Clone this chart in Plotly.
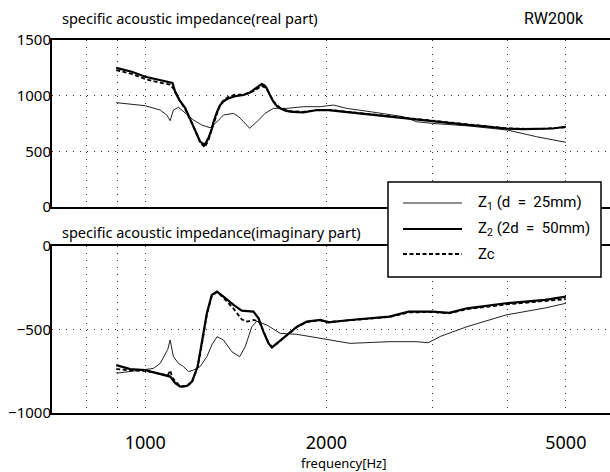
import plotly.graph_objects as go
import math

# ---------------- data ----------------
z1_re_f = [895, 950, 1000, 1059, 1086, 1100, 1114, 1136, 1158, 1203, 1242, 1282, 1316, 1349, 1402, 1429,
           1457, 1491, 1533, 1582, 1633, 1719, 1832, 1954, 2055, 2162, 2366, 2687, 2824, 3000, 3463, 4000,
           4474, 5000]
z1_re_v = [937, 922, 910, 871, 826, 775, 871, 895, 856, 781, 736, 712, 766, 826, 841, 811,
           766, 707, 766, 841, 886, 886, 901, 901, 916, 886, 856, 811, 766, 751, 727, 691,
           631, 581]

z2_re_f = [895, 950, 1000, 1050, 1100, 1110, 1122, 1140, 1165, 1185, 1203, 1220, 1234, 1255, 1274, 1290,
           1299, 1315, 1332, 1350, 1375, 1410, 1457, 1490, 1513, 1540, 1562, 1580, 1592, 1610, 1633, 1655,
           1676, 1710, 1742, 1790, 1832, 1880, 1929, 2017, 2100, 2216, 2350, 2521, 2700, 2864, 3000, 3200,
           3463, 3700, 4000, 4250, 4474, 4750, 5000]
z2_re_v = [1250, 1215, 1170, 1145, 1120, 1115, 1030, 960, 890, 800, 721, 640, 587, 557, 620, 700,
           766, 850, 916, 950, 976, 995, 1006, 1025, 1051, 1080, 1105, 1090, 1066, 1010, 946, 905,
           886, 865, 856, 852, 850, 860, 871, 870, 860, 847, 830, 811, 795, 781, 766, 755,
           736, 722, 703, 700, 700, 705, 721]

zc_re_f = [895, 950, 1000, 1050, 1100, 1122, 1140, 1165, 1203, 1234, 1255, 1274, 1290, 1315, 1332, 1350,
           1375, 1410, 1457, 1513, 1562, 1592, 1633, 1676, 1742, 1832, 1929, 2017, 2216, 2521, 2864, 3000,
           3463, 4000, 4474, 5000]
zc_re_v = [1230, 1195, 1150, 1120, 1100, 1040, 960, 880, 720, 580, 535, 600, 700, 830, 920, 960,
           990, 1010, 1010, 1040, 1090, 1060, 950, 890, 860, 855, 870, 872, 850, 818, 790, 775,
           742, 706, 700, 715]

z1_im_f = [895, 944, 1000, 1032, 1059, 1079, 1090, 1100, 1114, 1136, 1158, 1180, 1203, 1234, 1266, 1290,
           1316, 1349, 1393, 1435, 1466, 1504, 1533, 1592, 1676, 1787, 1879, 2017, 2190, 2544, 2818, 2953,
           3100, 3426, 3976, 4619, 5000]
z1_im_v = [-762, -752, -743, -733, -703, -643, -620, -563, -663, -703, -723, -752, -743, -722, -663, -593,
           -543, -563, -633, -663, -603, -483, -450, -473, -523, -529, -543, -559, -583, -573, -573, -579,
           -540, -483, -413, -371, -343]

z2_im_f = [895, 944, 1000, 1059, 1100, 1122, 1143, 1173, 1196, 1222, 1242, 1266, 1290, 1316, 1349, 1402,
           1447, 1513, 1543, 1572, 1603, 1624, 1655, 1719, 1787, 1855, 1954, 2017, 2190, 2544, 2740, 3000,
           3200, 3426, 3976, 4619, 5000]
z2_im_v = [-713, -737, -743, -766, -782, -822, -842, -838, -812, -722, -583, -403, -293, -273, -303, -353,
           -387, -393, -433, -513, -583, -607, -583, -533, -483, -453, -443, -457, -443, -423, -393, -393,
           -400, -373, -343, -323, -303]

zc_im_f = [895, 944, 1000, 1059, 1090, 1100, 1110, 1143, 1173, 1196, 1222, 1242, 1266, 1290, 1316, 1349,
           1402, 1447, 1480, 1513, 1543, 1572, 1603, 1624, 1655, 1719, 1787, 1855, 1954, 2017, 2190, 2544,
           2740, 3000, 3200, 3426, 3976, 4619, 5000]
zc_im_v = [-737, -745, -748, -768, -775, -745, -790, -842, -840, -815, -725, -590, -410, -300, -275, -310,
           -375, -440, -453, -443, -450, -510, -580, -605, -585, -535, -485, -455, -445, -455, -445, -425,
           -398, -395, -403, -378, -350, -330, -318]

legend_names = ["Z<sub>1</sub> (d  =  25mm)", "Z<sub>2</sub> (2d  =  50mm)", "Zc"]
grid_f = [800, 900, 1000, 2000, 3000, 4000, 5000]
grid_text = [" ", " ", "1000", "2000", " ", " ", "5000"]

# ---------------- figure ----------------
W, H = 610, 472
ML, MR, MT, MB = 52, 0, 40, 59
PW, PH = W - ML - MR, H - MT - MB

def px(xp):
    return (xp - ML) / PW

def py(yp):
    return (H - MB - yp) / PH

thin = dict(color="#222", width=1)
thick = dict(color="black", width=2.2)
dashed = dict(color="black", width=1.8, dash="4px,2.5px")

fig = go.Figure()
fig.add_trace(go.Scatter(x=z1_re_f, y=z1_re_v, mode="lines", line=thin, xaxis="x2", yaxis="y2"))
fig.add_trace(go.Scatter(x=zc_re_f, y=zc_re_v, mode="lines", line=dashed, xaxis="x2", yaxis="y2"))
fig.add_trace(go.Scatter(x=z2_re_f, y=z2_re_v, mode="lines", line=thick, xaxis="x2", yaxis="y2"))
fig.add_trace(go.Scatter(x=z1_im_f, y=z1_im_v, mode="lines", line=thin, xaxis="x", yaxis="y"))
fig.add_trace(go.Scatter(x=zc_im_f, y=zc_im_v, mode="lines", line=dashed, xaxis="x", yaxis="y"))
fig.add_trace(go.Scatter(x=z2_im_f, y=z2_im_v, mode="lines", line=thick, xaxis="x", yaxis="y"))

xr = [math.log10(700), math.log10(5920)]
gridstyle = dict(showgrid=True, gridcolor="#333", gridwidth=1, griddash="1px,6px")
axfont = dict(family="Noto Sans", size=15, color="black")

common_x = dict(type="log", range=xr, tickvals=grid_f, showline=True, linecolor="black",
                linewidth=2, mirror=True, ticks="", zeroline=False, **gridstyle)
fig.update_layout(
    width=W, height=H,
    margin=dict(l=ML, r=MR, t=MT, b=MB),
    paper_bgcolor="white", plot_bgcolor="white",
    showlegend=False,
    xaxis=dict(domain=[0, 1], anchor="y", ticktext=grid_text,
               tickfont=dict(family="Noto Sans", size=18, color="black"),
               ticklabelstandoff=12, **common_x),
    xaxis2=dict(domain=[0, 1], anchor="y2", showticklabels=False, matches="x", **common_x),
    yaxis=dict(domain=[0, (H - MB - 246) / PH], range=[-1000, 0], tickvals=[-1000, -500, 0],
               showline=True, linecolor="black", linewidth=2, ticks="", zeroline=False,
               ticklabelstandoff=-4, tickfont=axfont, **gridstyle),
    yaxis2=dict(domain=[(H - MB - 207) / PH, 1], range=[0, 1500], tickvals=[0, 500, 1000, 1500],
                showline=True, linecolor="black", linewidth=2, ticks="", zeroline=False,
                ticklabelstandoff=-4, tickfont=axfont, **gridstyle),
)

# titles
tfont = dict(family="Noto Sans", size=14.5, color="black")
fig.add_annotation(text="specific acoustic impedance(real part)", xref="paper", yref="paper",
                   x=px(60), y=py(18), xanchor="left", yanchor="middle", showarrow=False, font=tfont)
fig.add_annotation(text="specific acoustic impedance(imaginary part)", xref="paper", yref="paper",
                   x=px(60), y=py(232), xanchor="left", yanchor="middle", showarrow=False, font=tfont)
fig.add_annotation(text="RW200k", xref="paper", yref="paper", x=px(554), y=py(19),
                   xanchor="center", yanchor="middle", showarrow=False,
                   font=dict(family="Roboto", size=16, color="black"))
fig.add_annotation(text="frequency[Hz]", xref="paper", yref="paper", x=px(343), y=py(463),
                   xanchor="center", yanchor="middle", showarrow=False,
                   font=dict(family="Noto Sans", size=13, color="black"))

# legend box
fig.add_shape(type="rect", xref="paper", yref="paper", x0=px(388), x1=px(601), y0=py(277), y1=py(182),
              line=dict(color="black", width=1.5), fillcolor="white", layer="above")
rows = [203, 229, 254]
styles = [thin, thick, dashed]
for r, st, nm in zip(rows, styles, legend_names):
    fig.add_shape(type="line", xref="paper", yref="paper", x0=px(403), x1=px(462), y0=py(r), y1=py(r),
                  line=st, layer="above")
    fig.add_annotation(text=nm, xref="paper", yref="paper", x=px(476), y=py(r), xanchor="left",
                       yanchor="middle", showarrow=False,
                       font=dict(family="Roboto", size=15, color="black"))

fig.write_html("out.html", config={"displayModeBar": False},
               post_script="document.body.style.margin='0';")
